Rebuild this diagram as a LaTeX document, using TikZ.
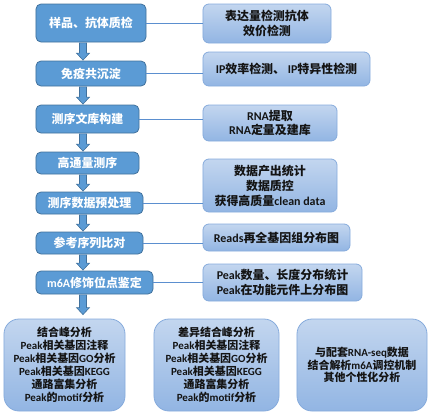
\documentclass[tikz,border=0pt]{standalone}
\usepackage{fontspec}
\setmainfont{Carlito}
\newfontfamily\cjk{Noto Sans CJK SC}
\usetikzlibrary{calc}
\newcommand\zh[1]{{\cjk #1}}
\definecolor{lfill}{HTML}{5B9BD5}
\definecolor{lborder}{HTML}{41719C}
\definecolor{rtop}{HTML}{C3D6EF}
\definecolor{rbot}{HTML}{92B5E3}
\definecolor{rborder}{HTML}{86ABDC}
\definecolor{linkc}{HTML}{5B8FCF}
\definecolor{arrf}{HTML}{5B9BD5}
\definecolor{arrb}{HTML}{41719C}
\begin{document}
\begin{tikzpicture}[x=1bp,y=-1bp,
  lbox/.style={draw=lborder, line width=0.8bp, fill=lfill, rounded corners=5bp, text=white,
    font=\fontsize{12}{15}\selectfont\bfseries, inner sep=0pt, align=center},
  rbox/.style={draw=rborder, line width=0.8bp, top color=rtop, bottom color=rbot, rounded corners=6bp,
    text=black!92, font=\fontsize{12}{15}\selectfont\bfseries, inner sep=0pt, align=center},
  bbox/.style={draw=rborder, line width=0.8bp, top color=rtop, bottom color=rbot, rounded corners=15bp,
    text=black!92, font=\fontsize{11}{13}\selectfont\bfseries, inner sep=0pt, align=center,
    minimum height=92bp},
  link/.style={draw=linkc, line width=0.9bp},
  blk/.style={draw=arrb, fill=arrf, line width=0.6bp,
    to path={let \p1=(\tikztostart), \p2=(\tikztotarget) in
      (\x1-3.5bp,\y1) -- (\x1+3.5bp,\y1) -- (\x1+3.5bp,\y2+7bp) -- (\x1+6.5bp,\y2+7bp)
      -- (\x1,\y2) -- (\x1-6.5bp,\y2+7bp) -- (\x1-3.5bp,\y2+7bp) -- cycle}}]
\useasboundingbox (0,0) rectangle (430,415);
\coordinate (ax) at (83,0);
% left column
\node[lbox, minimum width=110bp, minimum height=38bp] (s1) at (91,23) {\zh{样品、抗体质检}};
\node[lbox, minimum width=110bp, minimum height=25bp] (s2) at (91,73.5) {\zh{免疫共沉淀}};
\node[lbox, minimum width=103bp, minimum height=28bp] (s3) at (87.5,119) {\zh{测序文库构建}};
\node[lbox, minimum width=103bp, minimum height=22bp] (s4) at (87.5,163) {\zh{高通量测序}};
\node[lbox, minimum width=107bp, minimum height=22bp] (s5) at (89.5,203) {\zh{测序数据预处理}};
\node[lbox, minimum width=107bp, minimum height=22bp] (s6) at (89.5,243) {\zh{参考序列比对}};
\node[lbox, minimum width=117bp, minimum height=23bp] (s7) at (94.5,282.5) {m6A\zh{修饰位点鉴定}};
% right column
\node[rbox, minimum width=128bp, minimum height=39bp] (r1) at (267,23.5) {\zh{表达量检测抗体}\\\zh{效价检测}};
\node[rbox, minimum width=167bp, minimum height=34bp] (r2) at (286.5,69) {IP\zh{效率检测、} IP\zh{特异性检测}};
\node[rbox, minimum width=134bp, minimum height=36bp] (r3) at (270,123) {RNA\zh{提取}\\RNA\zh{定量及建库}};
\node[rbox, minimum width=134bp, minimum height=53bp] (r4) at (270,185.5) {\zh{数据产出统计}\\\zh{数据质控}\\\zh{获得高质量}clean data};
\node[rbox, minimum width=147bp, minimum height=27bp] (r5) at (276.5,237.5) {Reads\zh{再全基因组分布图}};
\node[rbox, minimum width=159bp, minimum height=37bp] (r6) at (282.5,282.5) {Peak\zh{数量、长度分布统计}\\Peak\zh{在功能元件上分布图}};
% bottom row
\node[bbox, minimum width=121bp] (b1) at (64.5,365) {\zh{结合峰分析}\\Peak\zh{相关基因注释}\\Peak\zh{相关基因}GO\zh{分析}\\Peak\zh{相关基因}KEGG\\\zh{通路富集分析}\\Peak\zh{的}motif\zh{分析}};
\node[bbox, minimum width=125bp] (b2) at (216.5,365) {\zh{差异结合峰分析}\\Peak\zh{相关基因注释}\\Peak\zh{相关基因}GO\zh{分析}\\Peak\zh{相关基因}KEGG\\\zh{通路富集分析}\\Peak\zh{的}motif\zh{分析}};
\node[bbox, minimum width=130bp, font=\fontsize{11}{12.5}\selectfont\bfseries] (b3) at (362,365) {\zh{与配套}RNA-seq\zh{数据}\\\zh{结合解析}m6A\zh{调控机制}\\\zh{其他个性化分析}};
% links
\foreach \a/\b in {s1/r1,s2/r2,s3/r3,s5/r4,s6/r5,s7/r6}
  \draw[link] (\a.east) -- (\a.east -| \b.west);
% arrows
\foreach \a/\b in {s1/s2,s2/s3,s3/s4,s4/s5,s5/s6,s6/s7}
  \path[blk] ([yshift=-0.5bp]\a.south -| ax) to ([yshift=0.5bp]\b.north -| ax);
\path[blk] ([yshift=-0.5bp]s7.south -| ax) to ([yshift=4bp]b1.north -| ax);
\end{tikzpicture}
\end{document}
